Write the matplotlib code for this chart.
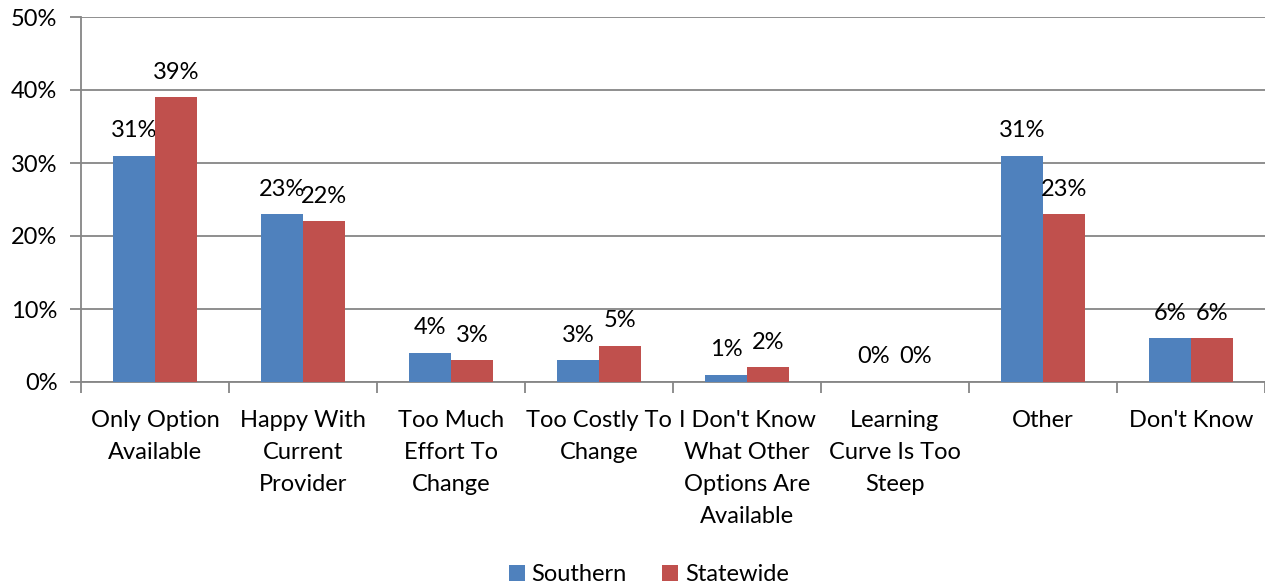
import numpy as np
import matplotlib.pyplot as plt
import matplotlib as mpl

mpl.rcParams['font.family'] = ['Lato', 'DejaVu Sans']

categories = ['Only Option\nAvailable', 'Happy With\nCurrent\nProvider',
              'Too Much\nEffort To\nChange', 'Too Costly To\nChange',
              "I Don't Know\nWhat Other\nOptions Are\nAvailable",
              'Learning\nCurve Is Too\nSteep', 'Other', "Don't Know"]
southern = [31, 23, 4, 3, 1, 0, 31, 6]
statewide = [39, 22, 3, 5, 2, 0, 23, 6]
series_names = ['Southern', 'Statewide']
colors = ['#4F81BD', '#C0504D']
gridcol = '#868686'
fs = 17

fig = plt.figure(figsize=(12.65, 5.83), dpi=100)
ax = fig.add_axes([81/1265, 1 - 382/583, 1 - 81/1265, (382 - 17)/583])

x = np.arange(len(categories))
w = 0.284
for i, (vals, name) in enumerate(zip([southern, statewide], series_names)):
    pos = x + (i - 0.5) * w
    ax.bar(pos, vals, width=w, color=colors[i], label=name, zorder=3)
    for p, v in zip(pos, vals):
        ax.text(p, v + 2.0, f'{v}%', ha='center', va='bottom', fontsize=fs)

ax.set_xlim(-0.5, len(categories) - 0.5)
ax.set_ylim(0, 50)
ax.set_yticks(np.arange(0, 51, 10))
ax.set_yticklabels([f'{t}%' for t in range(0, 51, 10)], fontsize=fs)
ax.yaxis.grid(True, color=gridcol, linewidth=1.3, zorder=0)

# category labels centred, ticks on boundaries
ax.set_xticks(np.arange(-0.5, len(categories)), minor=False)
ax.set_xticklabels([])
ax.set_xticks(x, minor=True)
ax.set_xticklabels(categories, minor=True, fontsize=fs, linespacing=1.65, va='top')
ax.tick_params(axis='x', which='minor', length=0, pad=20)
ax.tick_params(axis='x', which='major', length=8, width=1.3, color=gridcol)
ax.tick_params(axis='y', length=8, width=1.3, color=gridcol, pad=9)

for s in ['top', 'right']:
    ax.spines[s].set_visible(False)
for s in ['left', 'bottom']:
    ax.spines[s].set_color(gridcol)
    ax.spines[s].set_linewidth(1.3)

fig.legend(loc='lower center', bbox_to_anchor=(0.513, -0.04), ncol=2, frameon=False,
           fontsize=fs, handlelength=0.65, handleheight=0.65, handletextpad=0.3,
           columnspacing=1.5)

plt.savefig('out.png', dpi=100)
